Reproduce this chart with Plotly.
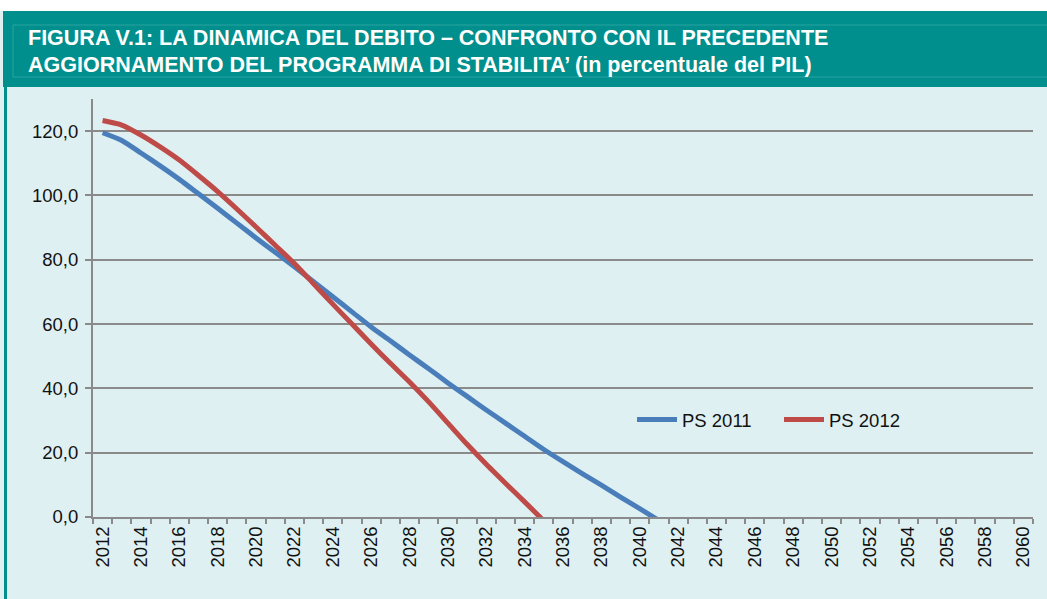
import plotly.graph_objects as go

years = list(range(2012, 2061))
tick_years = list(range(2012, 2061, 2))

# PS 2011 (blue) and PS 2012 (red), % of GDP; lines run below zero and are clipped by the axis
years_ps2011 = list(range(2012, 2042))
ps2011 = [119.5, 117.1, 113.2, 109.2, 105.0, 100.5, 96.0, 91.4, 86.8, 82.3,
          77.8, 73.2, 68.5, 63.8, 59.1, 54.8, 50.4, 46.1, 41.7, 37.5,
          33.3, 29.2, 25.1, 21.0, 17.2, 13.5, 9.9, 6.2, 2.6, -1.1]
years_ps2012 = list(range(2012, 2036))
ps2012 = [123.3, 121.9, 118.8, 115.1, 111.0, 106.2, 101.2, 95.8, 90.2, 84.5,
          78.8, 72.5, 66.2, 60.0, 53.8, 47.8, 42.0, 35.8, 29.2, 22.6,
          16.4, 10.5, 4.7, -1.2]

W, H = 1047, 599
L, R, T, B = 93, 14, 99, 82
PW, PH = W - L - R, H - T - B

TEAL = "#008F8C"
BG = "#DFF0F2"
GRID = "#8A8A8A"
FONT = "Liberation Sans, Arial, sans-serif"


def px(x):
    return (x - L) / PW


def py(y):
    return (H - B - y) / PH


fig = go.Figure()
fig.add_trace(go.Scatter(x=years_ps2011, y=ps2011, mode="lines", name="PS 2011", legend="legend",
                         line=dict(color="#4A7EBB", width=5, shape="spline", smoothing=0.6)))
fig.add_trace(go.Scatter(x=years_ps2012, y=ps2012, mode="lines", name="PS 2012", legend="legend2",
                         line=dict(color="#BE4B48", width=5, shape="spline", smoothing=0.6)))

shapes = [
    # white strip on top, teal header band, inner title box, left border
    dict(type="rect", xref="paper", yref="paper", x0=px(0), x1=px(W), y0=py(0), y1=py(11),
         fillcolor="white", line_width=0, layer="below"),
    dict(type="rect", xref="paper", yref="paper", x0=px(3), x1=px(W), y0=py(11), y1=py(87),
         fillcolor=TEAL, line_width=0, layer="below"),
    dict(type="rect", xref="paper", yref="paper", x0=px(13), x1=px(W + 5), y0=py(25), y1=py(77),
         fillcolor="rgba(0,0,0,0)", line=dict(color="#2AA3A0", width=1), layer="below"),
    dict(type="rect", xref="paper", yref="paper", x0=px(4), x1=px(7), y0=py(87), y1=py(H),
         fillcolor=TEAL, line_width=0, layer="below"),
]

title_font = dict(family=FONT, size=21.5, color="white")
annotations = [
    dict(text="<b>FIGURA V.1: LA DINAMICA DEL DEBITO – CONFRONTO CON IL PRECEDENTE</b>",
         xref="paper", yref="paper", x=px(26), y=py(38), xanchor="left", yanchor="middle",
         showarrow=False, font=title_font),
    dict(text="<b>AGGIORNAMENTO DEL PROGRAMMA DI STABILITA’ (in percentuale del PIL)</b>",
         xref="paper", yref="paper", x=px(26), y=py(65), xanchor="left", yanchor="middle",
         showarrow=False, font=title_font),
]

legend_style = dict(orientation="h", yanchor="middle", xanchor="left",
                    bgcolor="rgba(0,0,0,0)", font=dict(size=18.5), itemwidth=40)

fig.update_layout(
    width=W, height=H,
    margin=dict(l=L, r=R, t=T, b=B, autoexpand=False),
    paper_bgcolor=BG, plot_bgcolor=BG,
    font=dict(family=FONT, size=18.5, color="#111111"),
    separators=",.",
    shapes=shapes,
    annotations=annotations,
    showlegend=True,
    legend=dict(x=px(632), y=py(420), **legend_style),
    legend2=dict(x=px(779), y=py(420), **legend_style),
    xaxis=dict(
        range=[years[0] - 0.5, years[-1] + 0.5],
        tickmode="array", tickvals=tick_years, ticktext=[str(y) for y in tick_years],
        tickangle=-90, ticks="", showgrid=False, zeroline=False,
        showline=True, linecolor=GRID, linewidth=2,
        minor=dict(tickmode="array", tickvals=[y - 0.5 for y in years] + [years[-1] + 0.5],
                   ticks="outside", ticklen=5, tickcolor=GRID, tickwidth=2, showgrid=False),
    ),
    yaxis=dict(
        range=[0, 130], tickmode="array", tickvals=list(range(0, 121, 20)),
        tickformat=".1f", ticks="outside", ticklen=6, tickcolor=GRID, tickwidth=2,
        ticklabelstandoff=3,
        showgrid=True, gridcolor=GRID, gridwidth=2, zeroline=False,
        showline=True, linecolor=GRID, linewidth=2,
    ),
)

fig.write_html("out.html", config={"displayModeBar": False},
               post_script="document.body.style.margin='0';")
